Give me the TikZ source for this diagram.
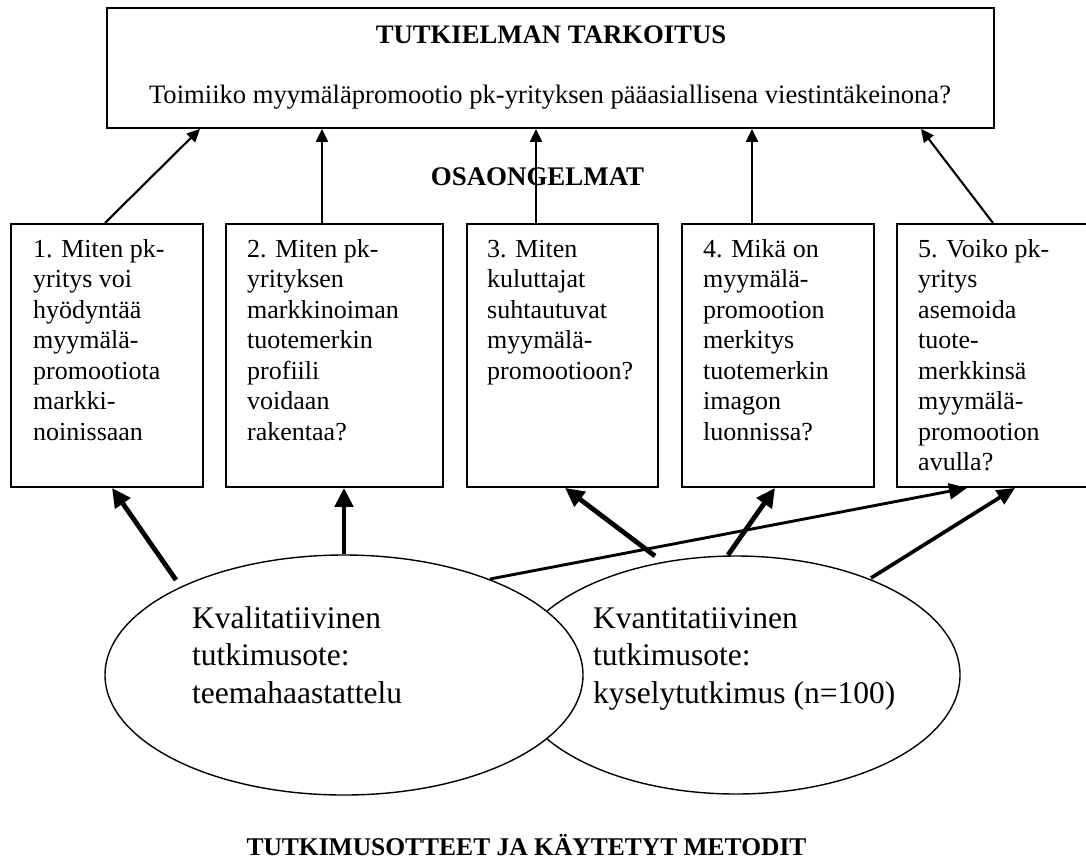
\documentclass[tikz,border=0pt]{standalone}
\usepackage{fontspec}
\setmainfont{Liberation Serif}
\usetikzlibrary{arrows.meta,shapes.geometric}

\begin{document}
\begin{tikzpicture}[x=1pt,y=-1pt,
  frame/.style={draw, line width=1.9pt, rectangle, inner sep=0pt, anchor=north west},
  qtext/.style={anchor=north west, inner sep=0pt, align=left, font=\fontsize{26}{30.5}\selectfont},
  oval/.style={draw, ellipse, line width=1.4pt, fill=white, inner sep=0pt},
  otext/.style={anchor=north west, inner sep=0pt, align=left, font=\fontsize{31.5}{37.5}\selectfont},
  heading/.style={font=\bfseries\fontsize{#1}{30}\selectfont, inner sep=0pt, anchor=base},
  heading/.default=25.5,
  up/.style={line width=2.1pt, -{Triangle[length=13pt,width=12pt]}},
  feed/.style={line width=4.8pt, -{Triangle[length=19pt,width=18pt]}},
  thinfeed/.style={line width=#1, -{Triangle[length=18pt,width=16pt]}},
]
\useasboundingbox[fill=white] (0,0) rectangle (1086,860);

% main question
\node[frame, minimum width=887pt, minimum height=120pt] (aim) at (106,7) {};
\node[heading=26.7] (aimtitle) at (551,43) {TUTKIELMAN TARKOITUS};
\node[font=\fontsize{26.6}{30}\selectfont, inner sep=0pt, anchor=base] (aimq) at (550,103)
  {Toimiiko myymäläpromootio pk-yrityksen pääasiallisena viestintäkeinona?};

\node[heading=26.9] (sub) at (537.5,185) {OSAONGELMAT};

% sub-problems
\node[frame, minimum width=192pt, minimum height=263pt] (b1) at (10,223) {};
\node[frame, minimum width=217pt, minimum height=263pt] (b2) at (225,223) {};
\node[frame, minimum width=191pt, minimum height=263pt] (b3) at (466,223) {};
\node[frame, minimum width=192pt, minimum height=263pt] (b4) at (681,223) {};
\node[frame, minimum width=200pt, minimum height=263pt] (b5) at (896,223) {};

\node[qtext] (t1) at ([shift={(23,14)}]b1.north west)
  {\rule{0pt}{20pt}1. Miten pk-\\yritys voi\\hyödyntää\\myymälä-\\promootiota\\markki-\\noinissaan};
\node[qtext] (t2) at ([shift={(22,14)}]b2.north west)
  {\rule{0pt}{20pt}2. Miten pk-\\yrityksen\\markkinoiman\\tuotemerkin\\profiili\\voidaan\\rakentaa?};
\node[qtext] (t3) at ([shift={(21,14)}]b3.north west)
  {\rule{0pt}{20pt}3. Miten\\kuluttajat\\suhtautuvat\\myymälä-\\promootioon?};
\node[qtext] (t4) at ([shift={(22,14)}]b4.north west)
  {\rule{0pt}{20pt}4. Mikä on\\myymälä-\\promootion\\merkitys\\tuotemerkin\\imagon\\luonnissa?};
\node[qtext] (t5) at ([shift={(22,14)}]b5.north west)
  {\rule{0pt}{20pt}5. Voiko pk-\\yritys\\asemoida\\tuote-\\merkkinsä\\myymälä-\\promootion\\avulla?};

% research approaches
\node[oval, minimum width=448pt, minimum height=238pt] (e2) at (736,675) {};
\node[oval, minimum width=478pt, minimum height=240pt] (e1) at (344,675) {};
\node[otext] (o1) at ([shift={(-152,-73)}]e1.center)
  {\rule{0pt}{26pt}Kvalitatiivinen\\tutkimusote:\\teemahaastattelu};
\node[otext] (o2) at ([shift={(-143,-73)}]e2.center)
  {\rule{0pt}{26pt}Kvantitatiivinen\\tutkimusote:\\kyselytutkimus (n=100)};

\node[heading] (meth) at (526.5,855) {TUTKIMUSOTTEET JA KÄYTETYT METODIT};

% sub-problems feed the main question
\draw[up] ([xshift=95pt]b1.north west) -- ([xshift=94pt]aim.south west);
\draw[up] ([xshift=97pt]b2.north west) -- ([xshift=216pt]aim.south west);
\draw[up] ([xshift=70pt]b3.north west) -- ([xshift=430pt]aim.south west);
\draw[up] ([xshift=71pt]b4.north west) -- ([xshift=646pt]aim.south west);
\draw[up] ([xshift=97pt]b5.north west) -- ([xshift=815pt]aim.south west);

% approaches answer the sub-problems
\draw[feed] ([shift={(-168,-95)}]e1.center) -- ([xshift=102pt]b1.south west);
\draw[feed] (e1.north) -- (e1.north |- b2.south);
\draw[feed] ([shift={(-81,-119)}]e2.center) -- ([xshift=99pt]b3.south west);
\draw[feed] ([shift={(-8,-120)}]e2.center) -- ([xshift=94pt]b4.south west);
\draw[thinfeed=2.9pt] ([shift={(146,-96)}]e1.center) -- ([xshift=71pt]b5.south west);
\draw[thinfeed=3.7pt] ([shift={(135,-97)}]e2.center) -- ([xshift=119pt]b5.south west);
\end{tikzpicture}
\end{document}
